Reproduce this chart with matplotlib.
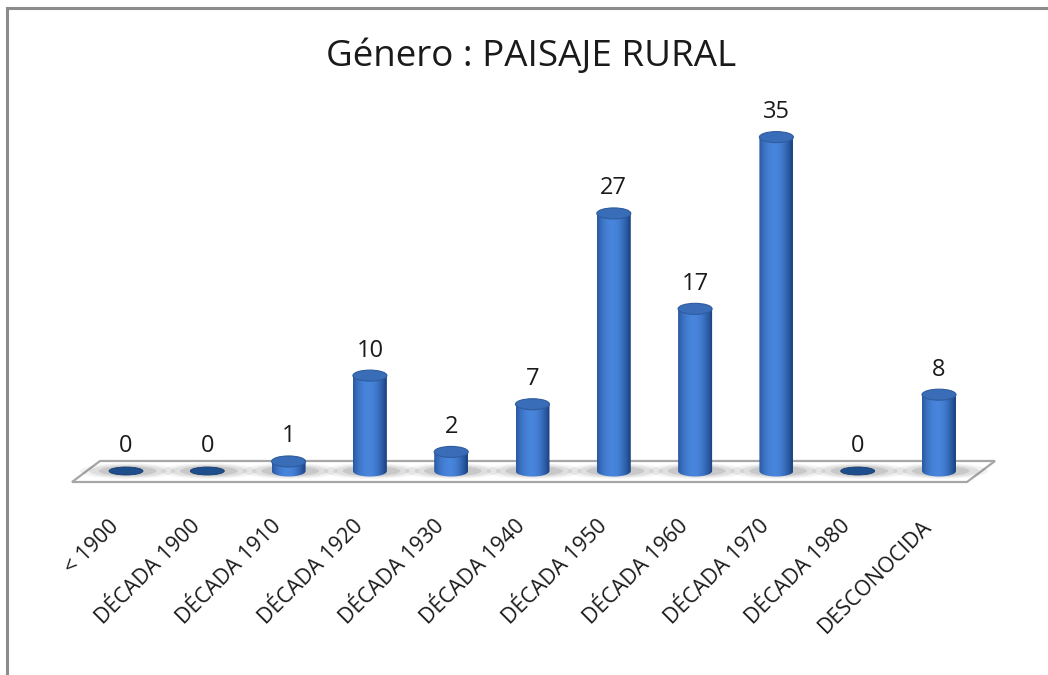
import numpy as np
import matplotlib
matplotlib.use("Agg")
import matplotlib.pyplot as plt
from matplotlib.patches import Ellipse, Polygon
from matplotlib.path import Path
from matplotlib.lines import Line2D

categories = ["< 1900", "DÉCADA 1900", "DÉCADA 1910", "DÉCADA 1920", "DÉCADA 1930",
              "DÉCADA 1940", "DÉCADA 1950", "DÉCADA 1960", "DÉCADA 1970",
              "DÉCADA 1980", "DESCONOCIDA"]
values = [0, 0, 1, 10, 2, 7, 27, 17, 35, 0, 8]
title = "Género : PAISAJE RURAL"

plt.rcParams["font.family"] = ["Open Sans", "DejaVu Sans"]

fig = plt.figure(figsize=(10.48, 6.75), dpi=100)
ax = fig.add_axes([0, 0, 1, 1])
ax.set_axis_off()

# pixel mapping: x px = 126 + 81.3*i ; y px (top) = 471 - 9.54*v
PX_X, PX_Y = 81.3, 9.54
ax.set_xlim(-126 / PX_X, (1048 - 126) / PX_X)
ax.set_ylim((471 - 675) / PX_Y, 471 / PX_Y)

hw = 17 / PX_X          # cylinder half width
eh = 11 / PX_Y          # ellipse full height

# outer frame (left and top only, as cropped in reference)
fig.add_artist(Line2D([7 / 1048, 7 / 1048], [0, 1 - 8 / 675], color="#8c8c8c", lw=2.2))
fig.add_artist(Line2D([7 / 1048, 1], [1 - 8 / 675, 1 - 8 / 675], color="#8c8c8c", lw=2.2))

# floor
floor = Polygon([[(72 - 126) / PX_X, (471 - 482) / PX_Y],
                 [(100 - 126) / PX_X, (471 - 461) / PX_Y],
                 [(995 - 126) / PX_X, (471 - 461) / PX_Y],
                 [(967 - 126) / PX_X, (471 - 482) / PX_Y]],
                closed=True, facecolor="white", edgecolor="#a6a6a6", lw=1.6, zorder=1)
ax.add_patch(floor)

# gradient across cylinder body
t = np.linspace(0, 1, 64)
shade = np.sin(np.pi * np.clip((t + 0.05) / 1.0, 0, 1)) ** 0.7
shade = shade * (1 - 0.2 * np.clip((t - 0.65) / 0.35, 0, 1))
dark = np.array([0.12, 0.28, 0.54])
light = np.array([0.28, 0.52, 0.86])
grad = dark[None, :] + (light - dark)[None, :] * ((shade - shade.min()) / (shade.max() - shade.min()))[:, None]
grad = grad[None, :, :]

for i, v in enumerate(values):
    # soft shadow on floor
    for k, a in enumerate([0.05, 0.08, 0.10]):
        ax.add_patch(Ellipse((i + 0.02, 0.0), 2 * hw * (2.8 - 0.55 * k), eh * (1.4 - 0.25 * k),
                             facecolor="black", edgecolor="none", alpha=a, zorder=2))
    if v <= 0:
        ax.add_patch(Ellipse((i, 0), 2 * hw, eh * 0.72, facecolor="#1f4e8c",
                             edgecolor="#173d70", lw=0.6, zorder=3))
    else:
        th = np.linspace(np.pi, 2 * np.pi, 40)
        verts = [(i - hw, v)] + [(i + hw * np.cos(a_), eh / 2 * np.sin(a_)) for a_ in th] + [(i + hw, v), (i - hw, v)]
        clip = Path(verts, closed=True)
        im = ax.imshow(grad, extent=(i - hw, i + hw, -eh, v), aspect="auto",
                       interpolation="bilinear", zorder=3)
        im.set_clip_path(clip, transform=ax.transData)
        ax.add_patch(Ellipse((i, v), 2 * hw, eh, facecolor="#3a6db8",
                             edgecolor="#2e5c9e", lw=0.8, zorder=4))
    ax.text(i, (v if v > 0 else 0) + 25 / PX_Y, str(v), ha="center", va="center",
            fontsize=17, color="#1a1a1a", zorder=5)
    ax.text(i - 10 / PX_X, (471 - 523) / PX_Y, categories[i], rotation=45,
            rotation_mode="anchor", ha="right", va="center", fontsize=15.5, color="#1a1a1a")

fig.text(531 / 1048, 1 - 57 / 675, title, ha="center", va="center", fontsize=26.5, color="#1a1a1a")

fig.savefig("out.png", dpi=100)
